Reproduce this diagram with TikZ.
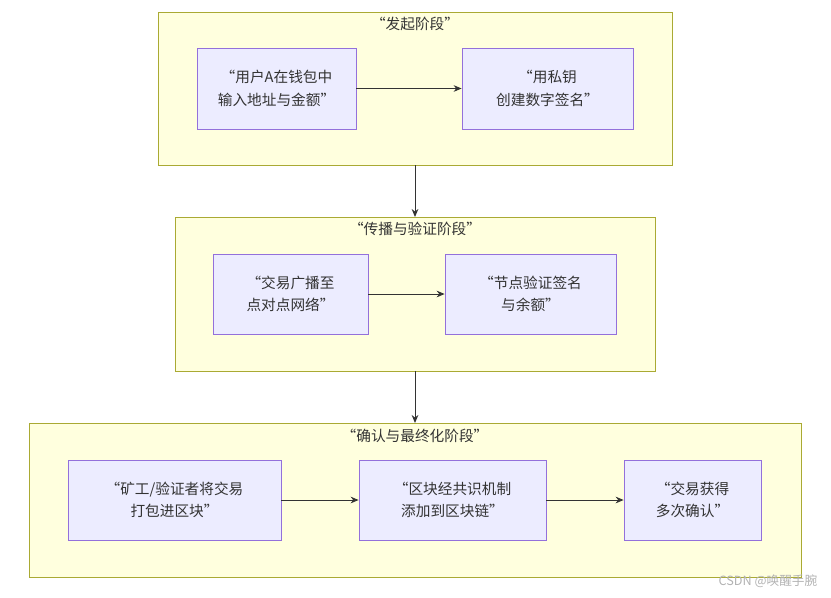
\documentclass[tikz,border=0pt]{standalone}
\usepackage{fontspec}
\setmainfont{Noto Sans CJK SC}
\usetikzlibrary{arrows.meta}
\definecolor{stagefill}{HTML}{FFFFDE}
\definecolor{stageline}{HTML}{AAAA33}
\definecolor{boxfill}{HTML}{ECECFF}
\definecolor{boxline}{HTML}{9370DB}
\definecolor{flowline}{HTML}{333333}
\begin{document}
\begin{tikzpicture}[x=0.75pt,y=-0.75pt,
  stage/.style={draw=stageline, fill=stagefill, line width=0.6pt},
  title/.style={font=\fontsize{11}{13}\selectfont, text=flowline},
  box/.style={draw=boxline, fill=boxfill, line width=0.6pt, align=center,
    font=\fontsize{11}{17}\selectfont, text=flowline, inner sep=0pt},
  flow/.style={draw=flowline, line width=0.7pt, -{Stealth[length=6pt,width=5pt]}}]
\useasboundingbox (0,0) rectangle (831,597);
% stages
\draw[stage] (158,12) rectangle (672,165);
\draw[stage] (175,217) rectangle (655,371);
\draw[stage] (29,423) rectangle (801,577);
\node[title] (t1) at (415,24) {“发起阶段”};
\node[title] (t2) at (415,229) {“传播与验证阶段”};
\node[title] (t3) at (415,436) {“确认与最终化阶段”};
\coordinate (s1b) at (415,165);
\coordinate (s2t) at (415,217);
\coordinate (s2b) at (415,371);
\coordinate (s3t) at (415,423);
% boxes
\node[box, minimum width=159*0.75pt, minimum height=81*0.75pt] (input) at (276.5,88.5) {“用户A在钱包中\\输入地址与金额”};
\node[box, minimum width=171*0.75pt, minimum height=81*0.75pt] (sign) at (547.5,88.5) {“用私钥\\创建数字签名”};
\node[box, minimum width=155*0.75pt, minimum height=80*0.75pt] (bcast) at (290.5,294) {“交易广播至\\点对点网络”};
\node[box, minimum width=171*0.75pt, minimum height=80*0.75pt] (verify) at (530.5,294) {“节点验证签名\\与余额”};
\node[box, minimum width=213*0.75pt, minimum height=80*0.75pt] (pack) at (174.5,500) {“矿工/验证者将交易\\打包进区块”};
\node[box, minimum width=187*0.75pt, minimum height=80*0.75pt] (chain) at (452.5,500) {“区块经共识机制\\添加到区块链”};
\node[box, minimum width=137*0.75pt, minimum height=80*0.75pt] (confirm) at (692.5,500) {“交易获得\\多次确认”};
% flow
\draw[flow] (input) -- (sign);
\draw[flow] (s1b) -- (s2t);
\draw[flow] (bcast) -- (verify);
\draw[flow] (s2b) -- (s3t);
\draw[flow] (pack) -- (chain);
\draw[flow] (chain) -- (confirm);
\node[anchor=east, text=gray!60, font=\fontsize{9.5}{11}\selectfont] (mark) at (822,581) {CSDN @唤醒手腕};
\end{tikzpicture}
\end{document}
